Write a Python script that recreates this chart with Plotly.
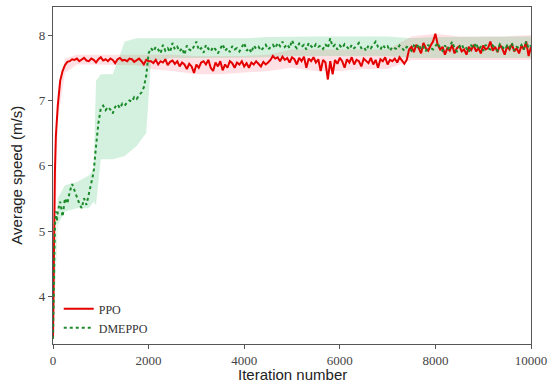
import plotly.graph_objects as go

# iteration grid for the mean curves
iters = [0, 20, 40, 60, 80] + list(range(100, 10001, 50))

ppo_mean = (
    [3.35, 4.8, 5.9, 6.45, 6.75, 6.92, 7.3, 7.45, 7.54, 7.59, 7.6, 7.63]
    # 450 - 2000
    + [7.62, 7.64, 7.6, 7.63, 7.65, 7.61, 7.6, 7.64, 7.62, 7.58,
       7.63, 7.66, 7.61, 7.63, 7.6, 7.64, 7.62, 7.57, 7.63, 7.65,
       7.61, 7.62, 7.6, 7.64, 7.63, 7.59, 7.62, 7.64, 7.6, 7.55,
       7.62, 7.6]
    # 2050 - 4550
    + [7.6, 7.57, 7.62, 7.55, 7.6, 7.58, 7.63, 7.54, 7.59, 7.61,
       7.56, 7.6, 7.52, 7.58, 7.55, 7.48, 7.56, 7.52, 7.42, 7.55,
       7.5, 7.58, 7.6, 7.55, 7.62, 7.5, 7.45, 7.58, 7.52, 7.6,
       7.46, 7.55, 7.5, 7.6, 7.57, 7.5, 7.58, 7.55, 7.6, 7.52,
       7.57, 7.5, 7.58, 7.55, 7.6, 7.56, 7.52, 7.59, 7.55, 7.58,
       7.62]
    # 4600 - 7400
    + [7.68, 7.64, 7.66, 7.6, 7.67, 7.62, 7.65, 7.58, 7.66, 7.63,
       7.55, 7.65, 7.6, 7.67, 7.5, 7.64, 7.6, 7.66, 7.58, 7.63,
       7.45, 7.62, 7.58, 7.32, 7.6, 7.4, 7.62, 7.56, 7.65, 7.6,
       7.5, 7.63, 7.58, 7.66, 7.55, 7.62, 7.6, 7.52, 7.64, 7.6,
       7.57, 7.65, 7.55, 7.62, 7.5, 7.63, 7.6, 7.66, 7.55, 7.62,
       7.6, 7.64, 7.58, 7.66, 7.6, 7.56, 7.62]
    # 7450 - 10000
    + [7.78, 7.82, 7.74, 7.85, 7.8, 7.72, 7.88, 7.8, 7.76, 7.84,
       7.9, 8.02, 7.85, 7.78, 7.82, 7.7, 7.8, 7.76, 7.85, 7.72,
       7.8, 7.83, 7.75, 7.78, 7.7, 7.82, 7.77, 7.85, 7.75, 7.8,
       7.72, 7.84, 7.78, 7.8, 7.9, 7.76, 7.82, 7.74, 7.85, 7.79,
       7.7, 7.83, 7.78, 7.86, 7.75, 7.8, 7.72, 7.84, 7.78, 7.9,
       7.68, 7.82]
)

dmeppo_mean = (
    [3.35, 4.5, 5.05, 5.3, 5.15, 5.3, 5.45, 5.22, 5.5, 5.42, 5.6, 5.72]
    # 450 - 2000
    + [5.62, 5.5, 5.42, 5.35, 5.5, 5.4, 5.58, 5.75, 5.9, 6.3,
       6.65, 6.88, 6.92, 6.85, 6.9, 6.86, 6.8, 6.9, 6.94, 6.88,
       6.95, 6.92, 6.97, 7.0, 6.98, 7.05, 7.02, 7.08, 7.12, 7.2,
       7.38, 7.72]
    # 2050 - 4550
    + [7.8, 7.75, 7.82, 7.78, 7.72, 7.85, 7.76, 7.8, 7.74, 7.88,
       7.78, 7.82, 7.75, 7.8, 7.7, 7.84, 7.78, 7.76, 7.82, 7.9,
       7.77, 7.8, 7.73, 7.85, 7.79, 7.75, 7.82, 7.78, 7.72, 7.8,
       7.86, 7.76, 7.8, 7.74, 7.83, 7.78, 7.8, 7.75, 7.82, 7.88,
       7.76, 7.8, 7.73, 7.84, 7.79, 7.82, 7.76, 7.8, 7.85, 7.78,
       7.82]
    # 4600 - 7400
    + [7.85, 7.8, 7.88, 7.83, 7.9, 7.82, 7.86, 7.8, 7.92, 7.84,
       7.8, 7.87, 7.82, 7.85, 7.78, 7.88, 7.83, 7.8, 7.86, 7.82,
       7.84, 7.79, 7.86, 7.8, 7.95, 7.82, 7.85, 7.78, 7.84, 7.8,
       7.86, 7.82, 7.78, 7.85, 7.8, 7.83, 7.88, 7.8, 7.82, 7.76,
       7.84, 7.8, 7.86, 7.9, 7.82, 7.78, 7.85, 7.8, 7.83, 7.76,
       7.82, 7.8, 7.78, 7.84, 7.8, 7.76, 7.82]
    # 7450 - 10000
    + [7.8, 7.76, 7.84, 7.8, 7.86, 7.78, 7.82, 7.75, 7.85, 7.8,
       7.78, 7.83, 7.88, 7.8, 7.76, 7.84, 7.78, 7.82, 7.9, 7.8,
       7.75, 7.82, 7.86, 7.78, 7.8, 7.74, 7.84, 7.8, 7.88, 7.78,
       7.82, 7.76, 7.85, 7.8, 7.78, 7.84, 7.8, 7.76, 7.86, 7.82,
       7.78, 7.84, 7.8, 7.88, 7.76, 7.82, 7.8, 7.85, 7.78, 7.9,
       7.8, 7.84]
)

# shaded spread bands
band_x = [0, 100, 250, 500, 750, 850, 900, 1000, 1250, 1500, 1750, 1950, 2050,
          2500, 3000, 3500, 4000, 4500, 5000, 5500, 6000, 6500, 7000, 7500,
          8000, 8500, 9000, 9500, 10000]
ppo_lo = [3.3, 6.7, 7.42, 7.55, 7.55, 7.55, 7.55, 7.55, 7.54, 7.54, 7.54, 7.52, 7.48,
          7.45, 7.4, 7.4, 7.42, 7.45, 7.5, 7.45, 7.45, 7.48, 7.48, 7.62,
          7.62, 7.62, 7.62, 7.62, 7.62]
ppo_hi = [3.4, 7.1, 7.64, 7.7, 7.7, 7.7, 7.7, 7.7, 7.7, 7.7, 7.7, 7.7, 7.7,
          7.7, 7.68, 7.68, 7.68, 7.7, 7.78, 7.78, 7.78, 7.78, 7.78, 7.98,
          8.02, 7.98, 7.98, 7.98, 8.0]
dme_lo = [3.3, 5.1, 5.3, 5.35, 5.35, 5.45, 5.4, 6.1, 6.1, 6.15, 6.3, 6.5, 7.6,
          7.65, 7.65, 7.65, 7.65, 7.66, 7.68, 7.68, 7.68, 7.68, 7.68, 7.65,
          7.65, 7.65, 7.65, 7.65, 7.65]
dme_hi = [3.4, 5.5, 5.7, 5.75, 5.85, 5.95, 7.3, 7.4, 7.4, 7.9, 7.95, 7.95, 7.95,
          7.95, 7.95, 7.95, 7.95, 7.97, 7.98, 7.98, 7.98, 7.98, 7.98, 7.95,
          7.97, 7.97, 7.97, 7.97, 7.98]

x_ticks = [0, 2000, 4000, 6000, 8000, 10000]
y_ticks = [4, 5, 6, 7, 8]

assert len(iters) == len(ppo_mean) == len(dmeppo_mean)
assert len(band_x) == len(ppo_lo) == len(ppo_hi) == len(dme_lo) == len(dme_hi)

RED = "#e50000"
GREEN = "#1b8a2a"

fig = go.Figure()
# bands
fig.add_trace(go.Scatter(x=band_x, y=ppo_hi, mode="lines", line=dict(width=0),
                         showlegend=False, hoverinfo="skip"))
fig.add_trace(go.Scatter(x=band_x, y=ppo_lo, mode="lines", line=dict(width=0),
                         fill="tonexty", fillcolor="rgba(255,60,90,0.16)",
                         showlegend=False, hoverinfo="skip"))
fig.add_trace(go.Scatter(x=band_x, y=dme_hi, mode="lines", line=dict(width=0),
                         showlegend=False, hoverinfo="skip"))
fig.add_trace(go.Scatter(x=band_x, y=dme_lo, mode="lines", line=dict(width=0),
                         fill="tonexty", fillcolor="rgba(60,190,110,0.22)",
                         showlegend=False, hoverinfo="skip"))
# means
fig.add_trace(go.Scatter(x=iters, y=ppo_mean, mode="lines", name="PPO",
                         line=dict(color=RED, width=2)))
fig.add_trace(go.Scatter(x=iters, y=dmeppo_mean, mode="lines", name="DMEPPO",
                         line=dict(color=GREEN, width=2, dash="dot")))

axis_common = dict(showline=True, linecolor="#555555", linewidth=1.3, mirror=True,
                   ticks="outside", ticklen=4, tickcolor="#555555",
                   showgrid=False, zeroline=False, automargin=False,
                   tickfont=dict(family="Liberation Serif, DejaVu Serif, serif",
                                 size=13, color="#444444"))

fig.update_xaxes(range=[0, 10000], tickvals=x_ticks,
                 ticktext=[str(v) for v in x_ticks], **axis_common)
fig.update_yaxes(range=[3.27, 8.43], tickvals=y_ticks,
                 ticktext=[str(v) for v in y_ticks], **axis_common)

title_font = dict(family="Liberation Sans, Arial, sans-serif", size=15, color="#222222")
fig.add_annotation(text="Iteration number", xref="paper", yref="paper",
                   x=0.5, y=-0.06, xanchor="center", yanchor="top",
                   showarrow=False, font=title_font)
fig.add_annotation(text="Average speed (m/s)", xref="paper", yref="paper",
                   x=-0.077, y=0.5, xanchor="center", yanchor="middle",
                   textangle=-90, showarrow=False, font=title_font)

fig.update_layout(
    width=550, height=385,
    margin=dict(l=53, r=19, t=7, b=41, autoexpand=False),
    paper_bgcolor="white", plot_bgcolor="white",
    legend=dict(x=0.012, y=0.005, xanchor="left", yanchor="bottom",
                traceorder="normal",
                bgcolor="rgba(255,255,255,0)",
                font=dict(family="Liberation Serif, DejaVu Serif, serif",
                          size=12, color="#333333"),
                tracegroupgap=0, itemwidth=30),
)

fig.write_html("out.html", config={"displayModeBar": False},
               post_script="document.body.style.margin='0';document.body.style.overflow='hidden';")
